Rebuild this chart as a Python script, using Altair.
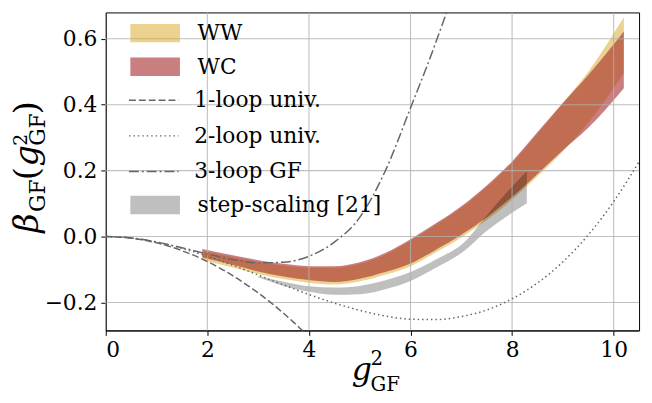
import altair as alt
import pandas as pd

FONT = "DejaVu Serif"

# ---------------- data ----------------
band_x = [1.9, 2.5, 3.0, 3.5, 4.0, 4.5, 5.0, 5.5, 6.0, 6.5, 7.0, 7.5, 8.0, 8.5, 9.0, 9.5, 10.2]
wc_hi = [-0.038, -0.057, -0.072, -0.083, -0.090, -0.090, -0.078, -0.050, -0.008, 0.040, 0.092, 0.155, 0.228, 0.317, 0.405, 0.490, 0.622]
wc_lo = [-0.064, -0.086, -0.106, -0.121, -0.132, -0.138, -0.128, -0.108, -0.082, -0.040, 0.005, 0.058, 0.120, 0.190, 0.262, 0.330, 0.450]
ww_hi = [-0.043, -0.062, -0.077, -0.088, -0.095, -0.095, -0.083, -0.055, -0.013, 0.035, 0.087, 0.150, 0.223, 0.312, 0.405, 0.500, 0.665]
ww_lo = [-0.071, -0.094, -0.114, -0.129, -0.140, -0.146, -0.136, -0.116, -0.090, -0.048, -0.003, 0.050, 0.112, 0.183, 0.258, 0.345, 0.496]

ss_x = [3.0, 3.5, 4.0, 4.5, 5.0, 5.5, 6.0, 6.5, 7.1, 7.46, 7.8, 8.29]
ss_hi = [-0.120, -0.137, -0.151, -0.155, -0.150, -0.133, -0.108, -0.070, -0.011, 0.056, 0.118, 0.198]
ss_lo = [-0.124, -0.150, -0.168, -0.177, -0.175, -0.160, -0.135, -0.095, -0.039, 0.012, 0.051, 0.101]

loop1_x = [0, 0.5, 1.0, 1.5, 2.0, 2.5, 3.0, 3.5, 4.0]
loop1_y = [0, -0.005, -0.019, -0.043, -0.076, -0.119, -0.171, -0.233, -0.304]

loop2_x = [0, 0.5, 1.0, 1.5, 2.0, 2.5, 3.0, 3.5, 4.0, 4.5, 5.0, 5.5, 6.0, 6.5, 7.0, 7.5, 8.0, 8.5, 9.0, 9.5, 10.0, 10.5]
loop2_y = [0, -0.0045, -0.017, -0.036, -0.060, -0.087, -0.117, -0.147, -0.176, -0.202, -0.224, -0.241, -0.251, -0.252, -0.243, -0.223, -0.189, -0.141, -0.077, 0.005, 0.106, 0.227]

loop3_x = [0, 0.5, 1.0, 1.5, 2.0, 2.5, 3.0, 3.5, 4.0, 4.5, 5.0, 5.5, 6.0, 6.5, 6.8, 7.0]
loop3_y = [0, -0.0045, -0.0165, -0.034, -0.053, -0.070, -0.080, -0.078, -0.060, -0.017, 0.058, 0.198, 0.390, 0.590, 0.725, 0.840]

x_ticks = [0, 2, 4, 6, 8, 10]
y_ticks = [-0.2, 0.0, 0.2, 0.4, 0.6]

band_names = ["WW", "WC"]
band_colors = ["rgba(218,165,32,0.5)", "rgba(165,42,42,0.6)"]
line_names = ["1-loop univ.", "2-loop univ.", "3-loop GF"]
line_dashes = [[7, 3], [1.5, 3], [10, 3, 2, 3]]
ss_name = "step-scaling [21]"
ss_color = "rgba(0,0,0,0.25)"

# ---------------- tables ----------------
ww_df = pd.DataFrame({"x": band_x, "lo": ww_lo, "hi": ww_hi, "s": "WW"})
wc_df = pd.DataFrame({"x": band_x, "lo": wc_lo, "hi": wc_hi, "s": "WC"})
ss_df = pd.DataFrame({"x": ss_x, "lo": ss_lo, "hi": ss_hi, "s": ss_name})
lines_df = pd.concat([
    pd.DataFrame({"x": loop1_x, "y": loop1_y, "s": line_names[0]}),
    pd.DataFrame({"x": loop2_x, "y": loop2_y, "s": line_names[1]}),
    pd.DataFrame({"x": loop3_x, "y": loop3_y, "s": line_names[2]}),
], ignore_index=True)

xscale = alt.Scale(domain=[0, 10.5], nice=False, zero=False)
yscale = alt.Scale(domain=[-0.285, 0.68], nice=False, zero=False)
xaxis = alt.Axis(values=x_ticks, format="d", title=None, grid=False)
yaxis = alt.Axis(values=y_ticks, format=".1f", title=None, grid=False)


def X(f):
    return alt.X(f, type="quantitative", scale=xscale, axis=xaxis)


def Y(f):
    return alt.Y(f, type="quantitative", scale=yscale, axis=yaxis)


RECT = "M-2.7,-1H2.7V1H-2.7Z"
HLINE = "M-2.7,0H2.7"
LAB = 22

band_legend = alt.Legend(orient="none", legendX=39, legendY=10, title=None,
                         symbolType=RECT, symbolSize=346, symbolStrokeWidth=0,
                         labelFont=FONT, labelFontSize=LAB, labelColor="black",
                         labelOffset=32, rowPadding=12, padding=0, labelLimit=400)
fill_scale = alt.Scale(domain=band_names, range=band_colors)

ww = alt.Chart(ww_df).mark_area(interpolate="monotone").encode(
    x=X("x"), y=Y("lo"), y2="hi",
    fill=alt.Fill("s:N", scale=fill_scale, legend=band_legend))
wc = alt.Chart(wc_df).mark_area(interpolate="monotone").encode(
    x=X("x"), y=Y("lo"), y2="hi",
    fill=alt.Fill("s:N", scale=fill_scale, legend=band_legend))

ss_legend = alt.Legend(orient="none", legendX=39, legendY=184, title=None,
                       symbolType=RECT, symbolSize=346, symbolStrokeWidth=0,
                       labelFont=FONT, labelFontSize=LAB, labelColor="black",
                       labelOffset=32, padding=0, labelLimit=400)
ss = alt.Chart(ss_df).mark_area(interpolate="monotone").encode(
    x=X("x"), y=Y("lo"), y2="hi",
    fill=alt.Fill("s:N", scale=alt.Scale(domain=[ss_name], range=[ss_color]), legend=ss_legend))

gridx = alt.Chart(pd.DataFrame({"v": x_ticks})).mark_rule(
    color="#b0b0b0", strokeWidth=1.1, opacity=0.8).encode(x=X("v"))
gridy = alt.Chart(pd.DataFrame({"v": y_ticks})).mark_rule(
    color="#b0b0b0", strokeWidth=1.1, opacity=0.8).encode(y=Y("v"))

line_legend = alt.Legend(orient="none", legendX=37.6, legendY=78, title=None,
                         symbolType=HLINE, symbolSize=346, symbolStrokeWidth=1.5,
                         symbolStrokeColor="#666666",
                         labelFont=FONT, labelFontSize=LAB, labelColor="black",
                         labelOffset=30, rowPadding=14, padding=0, labelLimit=400)
lines = alt.Chart(lines_df).mark_line(interpolate="monotone", clip=True,
                                      color="#666666", strokeWidth=1.5).encode(
    x=X("x"), y=Y("y"),
    strokeDash=alt.StrokeDash("s:N", scale=alt.Scale(domain=line_names, range=line_dashes),
                              legend=line_legend),
    detail="s:N")


def piece(txt, x, y, size, italic=False, angle=0):
    return alt.Chart(pd.DataFrame({"t": [txt]})).mark_text(
        align="left", baseline="alphabetic", font=FONT, fontSize=size,
        fontStyle="italic" if italic else "normal", angle=angle, color="black"
    ).encode(x=alt.value(x), y=alt.value(y), text="t:N")


# x-axis title  g^2_GF
xt = [
    piece("g", 249, 372, 32, italic=True),
    piece("2", 268, 357, 20),
    piece("GF", 268, 383, 20),
]
# y-axis title  beta_GF(g^2_GF), rotated
yt = [
    piece("β", -69, 223, 34, italic=True, angle=270),
    piece("GF", -62, 202, 22, angle=270),
    piece("(", -69, 170, 34, angle=270),
    piece("g", -69, 156, 34, italic=True, angle=270),
    piece("2", -80, 135, 19, angle=270),
    piece("GF", -62, 135, 22, angle=270),
    piece(")", -69, 103, 34, angle=270),
]

chart = alt.layer(
    alt.layer(ww, wc), ss, gridx, gridy, lines, *xt, *yt
).resolve_scale(fill="independent").properties(
    width=540, height=322,
    autosize=alt.AutoSizeParams(type="none"),
    padding={"left": 99, "top": 2, "right": 5, "bottom": 71},
).configure_axis(
    labelFont=FONT, labelFontSize=22, labelColor="black",
    tickColor="black", domainColor="black", tickSize=5, tickWidth=1,
    domainWidth=1, labelPadding=4,
).configure_view(stroke="black", strokeWidth=1)

chart.save("out.html", embed_options={"renderer": "svg", "actions": False})
